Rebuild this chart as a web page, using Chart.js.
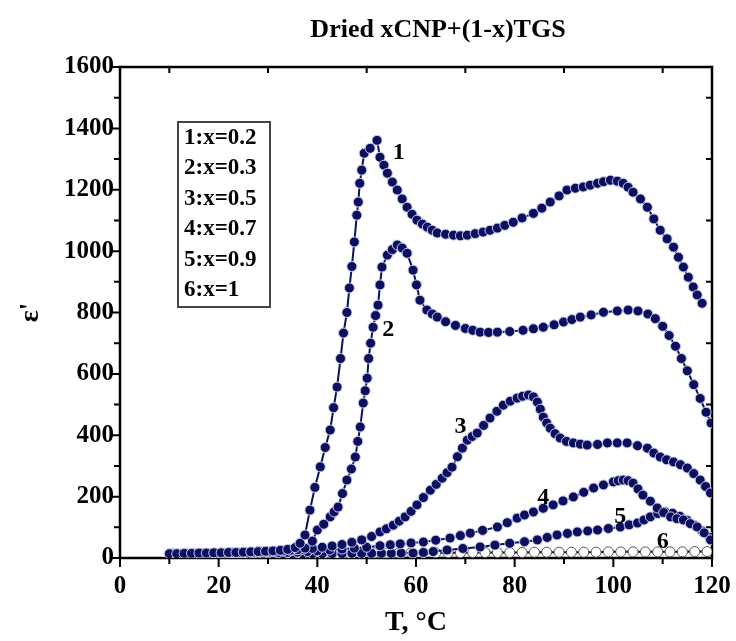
<!DOCTYPE html>
<html>
<head>
<meta charset="utf-8">
<script src="https://cdn.jsdelivr.net/npm/chart.js@4"></script>
<style>
  html, body { margin: 0; padding: 0; background: #fff; }
  #wrap { width: 736px; height: 641px; }
</style>
</head>
<body>
<div id="wrap"><canvas id="epsChart" width="736" height="641"></canvas></div>
<script>
  // --- Data ---
  const chartTitle = 'Dried xCNP+(1-x)TGS';
  const seriesLabels = ['1:x=0.2', '2:x=0.3', '3:x=0.5', '4:x=0.7', '5:x=0.9', '6:x=1'];

  const t1 = [10, 11.5, 13, 14.5, 16, 17.5, 19, 20.5, 22, 23.5, 25, 26.5, 28, 29.5, 31, 32.5, 34, 35.5, 36.5, 37.5,
    38.5, 39.5, 40.6, 41.6, 42.6, 43.3, 44, 44.7, 45.3, 46, 46.5, 47, 47.5, 48, 48.3, 48.6, 49, 49.5, 50.7, 52.1,
    52.7, 53.5, 54.2, 55.2, 56.2, 57.2, 58.2, 59.2, 60.2, 61.3, 62.3, 63.3, 64.3, 66, 67.6, 69, 70.4, 72, 73.6, 75,
    76.5, 78, 79.7, 81.5, 83.8, 85.5, 87.2, 89, 90.6, 92.3, 93.9, 95.3, 96.8, 98, 99.4, 100.8, 102, 103, 104, 105.5,
    106.9, 108.2, 109.5, 110.9, 112.2, 113.2, 114.2, 115.2, 116.2, 117, 118];
  const e1 = [14, 14, 15, 15, 16, 16, 17, 17, 18, 18, 19, 20, 21, 22, 23, 25, 28, 34, 48, 75,
    156, 230, 297, 360, 417, 490, 557, 650, 733, 800, 880, 950, 1030, 1117, 1160, 1221, 1264, 1319, 1335, 1361,
    1306, 1280, 1254, 1225, 1199, 1170, 1143, 1120, 1101, 1088, 1078, 1068, 1059, 1055, 1052, 1050, 1052, 1057, 1062, 1068,
    1075, 1084, 1094, 1108, 1123, 1140, 1160, 1180, 1199, 1205, 1209, 1215, 1221, 1226, 1231, 1228, 1221, 1208, 1192, 1170,
    1143, 1105, 1068, 1040, 1013, 980, 948, 915, 883, 857, 830];

  const t2 = [10.5, 12, 13.5, 15, 16.5, 18, 19.5, 21, 22.5, 24, 25.5, 27, 28.5, 30, 31.5, 33, 34.5, 36, 37.5, 39,
    40, 41.3, 42.6, 43.4, 44.2, 45.1, 46, 46.9, 47.7, 48.2, 48.7, 49.3, 49.7, 50.1, 50.4, 50.8, 51.3, 51.8, 52.3, 52.7,
    53.1, 54.2, 55.2, 56.2, 57.2, 58.2, 59.4, 60.1, 60.8, 62.2, 63.3, 64.3, 66, 68, 70, 71.5, 73, 74.7, 76.5, 79,
    81.7, 83.8, 85.8, 88, 89.9, 91.6, 93.3, 95.5, 98, 100.8, 103, 105, 107, 108.5, 110, 111.3, 112.6, 113.8, 115, 116.3,
    117.6, 118.8, 119.8];
  const e2 = [13, 13, 14, 14, 15, 15, 16, 16, 17, 17, 18, 19, 20, 21, 22, 23, 25, 27, 32, 55,
    91, 110, 134, 150, 166, 210, 254, 290, 329, 380, 427, 505, 545, 586, 650, 700, 752, 790, 824, 890,
    948, 987, 1005, 1020, 1010, 993, 938, 890, 840, 808, 795, 785, 770, 758, 748, 742, 736, 735, 736, 738,
    742, 747, 752, 760, 769, 777, 785, 792, 801, 805, 808, 805, 795, 780, 755, 725, 690, 650, 610, 565,
    520, 475, 440];

  const t3 = [11, 13, 15, 17, 19, 21, 23, 25, 27, 29, 31, 33, 35, 37, 39, 41, 43, 45, 47, 49, 51,
    52.7, 54, 55.4, 56.6, 57.8, 59, 60.2, 61.5, 62.9, 64.1, 65.3, 66.3, 67.3, 68.4, 69.4, 70.4, 71.4, 72.4, 73.7,
    75, 76.4, 77.7, 79.1, 80.5, 81.6, 82.8, 83.8, 84.6, 85.2, 85.8, 86.5, 87.2, 88.2, 89.2, 90.5, 91.9, 93.3, 94.7, 96.8,
    98.8, 100.8, 102.8, 104.9, 106.9, 108.2, 109.5, 110.8, 112.2, 113.6, 115, 116.3, 117.6, 118.7, 119.7];
  const e3 = [14, 14, 15, 15, 16, 16, 17, 18, 19, 20, 21, 23, 25, 28, 31, 35, 39, 44, 51, 59, 70,
    85, 95, 107, 120, 134, 152, 173, 197, 221, 240, 260, 278, 296, 330, 358, 384, 396, 407, 432,
    456, 478, 498, 511, 521, 527, 531, 525, 508, 485, 459, 440, 423, 405, 391, 380, 375, 371, 368, 370,
    375, 375, 375, 366, 358, 342, 329, 320, 313, 304, 293, 275, 254, 233, 212];

  const t4 = [12, 14, 16, 18, 20, 22, 24, 26, 28, 30, 32, 34, 36, 38, 40, 42.5, 45, 47.5, 50, 52.7,
    54.8, 56.8, 59, 61.5, 64, 66.9, 69, 71, 73.5, 76.5, 78.5, 80.5, 82, 83.8, 85.8, 87.8, 89.8, 91.9, 94, 96,
    98, 100, 101, 102, 103, 104, 105, 106, 107.5, 108.9, 110.2, 111.6, 112.9, 114.2, 115.6, 117, 118.4, 119.7];
  const e4 = [12, 12, 13, 13, 14, 14, 15, 15, 16, 16, 17, 18, 19, 21, 23, 26, 29, 32, 35, 40,
    43, 46, 49, 52, 58, 65, 73, 81, 90, 101, 115, 130, 140, 150, 162, 173, 186, 199, 214, 228,
    238, 248, 252, 254, 252, 244, 225, 205, 185, 163, 148, 134, 128, 124, 112, 101, 82, 59];

  const t5 = [13, 15, 17, 19, 21, 23, 25, 27, 29, 31, 33, 35, 37, 39, 41, 43, 45, 47, 49, 51, 53, 55, 57,
    59.4, 61.5, 63.5, 66.3, 69.5, 73, 76, 79, 82, 84.6, 86.6, 88.6, 90.7, 92.7, 94.8, 96.8, 99,
    101.4, 103.2, 104.9, 106.2, 107.5, 109, 110.5, 112, 113.5, 115, 116.5, 118, 119.5];
  const e5 = [10, 10, 11, 11, 11, 12, 12, 12, 12, 13, 13, 13, 13, 14, 14, 14, 14, 15, 15, 15, 15, 15, 16,
    16, 18, 21, 26, 31, 36, 42, 48, 53, 59, 67, 75, 80, 85, 88, 91, 96,
    101, 108, 114, 124, 134, 145, 150, 146, 136, 122, 106, 88, 68];

  const t6 = [34, 36.5, 39, 41.5, 44, 46.5, 49, 51.5, 54, 56.5, 59, 61.5, 64, 66.5, 69, 71.5, 74, 76.5, 79, 81.5,
    84, 86.5, 89, 91.5, 94, 96.5, 99, 101.5, 104, 106.5, 109, 111.5, 114, 116.5, 119];
  const e6 = [14, 14, 15, 15, 15, 15, 16, 16, 16, 16, 17, 17, 17, 17, 17, 18, 18, 18, 18, 18,
    19, 19, 19, 19, 19, 19, 20, 20, 20, 20, 20, 20, 20, 21, 21];

  // curve number labels placed next to each curve (T, eps')
  const noteText = ['1', '2', '3', '4', '5', '6'];
  const noteT = [56.5, 54.4, 69, 85.8, 101.4, 110];
  const noteE = [1319, 743, 427, 195, 134, 52];

  const xTicks = [0, 20, 40, 60, 80, 100, 120];
  const yTicks = [0, 200, 400, 600, 800, 1000, 1200, 1400, 1600];

  const NAVY = '#0c0f5e';
  const FONT = 'Liberation Serif';

  function zip(ts, es) {
    const n = Math.min(ts.length, es.length);
    const out = [];
    for (let i = 0; i < n; i++) out.push({ x: ts[i], y: es[i] });
    return out;
  }

  const curves = [[t1, e1], [t2, e2], [t3, e3], [t4, e4], [t5, e5], [t6, e6]];

  const datasets = curves.map((c, i) => {
    const open = i === 5;
    return {
      label: seriesLabels[i],
      data: zip(c[0], c[1]),
      showLine: true,
      borderColor: open ? '#111' : NAVY,
      borderWidth: 2,
      pointRadius: 5,
      pointBackgroundColor: open ? '#ffffff' : NAVY,
      pointBorderColor: open ? '#555' : '#c9cdf0',
      pointBorderWidth: 1,
      tension: 0
    };
  });

  // --- frame with ticks, title, curve numbers and legend box ---
  const framePlugin = {
    id: 'frame',
    beforeDatasetsDraw(chart) {
      const { ctx, chartArea: a, scales: { x, y } } = chart;
      ctx.save();
      ctx.strokeStyle = '#000';
      ctx.lineWidth = 2;
      ctx.beginPath();
      for (let v = 0; v <= 120; v += 10) {
        const px = x.getPixelForValue(v);
        const major = v % 20 === 0;
        ctx.moveTo(px, a.bottom);
        ctx.lineTo(px, a.bottom + (major ? 9 : 6));
        if (!major) { ctx.moveTo(px, a.top); ctx.lineTo(px, a.top + 6); }
      }
      for (let v = 0; v <= 1600; v += 100) {
        const py = y.getPixelForValue(v);
        const major = v % 200 === 0;
        ctx.moveTo(a.left, py);
        ctx.lineTo(a.left - (major ? 9 : 6), py);
        if (!major) { ctx.moveTo(a.right, py); ctx.lineTo(a.right - 6, py); }
      }
      ctx.stroke();
      ctx.lineWidth = 2.5;
      ctx.strokeRect(a.left, a.top, a.right - a.left, a.bottom - a.top);

      ctx.fillStyle = '#000';
      ctx.font = 'bold 26px "' + FONT + '"';
      ctx.textAlign = 'center';
      ctx.textBaseline = 'middle';
      ctx.fillText(chartTitle, (a.left + a.right) / 2 + 22, 30);
      ctx.restore();
    },
    afterDatasetsDraw(chart) {
      const { ctx, chartArea: a, scales: { x, y } } = chart;
      ctx.save();
      ctx.fillStyle = '#000';
      ctx.font = 'bold 24px "' + FONT + '"';
      ctx.textAlign = 'center';
      ctx.textBaseline = 'middle';
      noteText.forEach((t, i) => {
        ctx.fillText(t, x.getPixelForValue(noteT[i]), y.getPixelForValue(noteE[i]));
      });

      // legend box
      const bx = a.left + 58, by = a.top + 55, bw = 92, bh = 185;
      ctx.fillStyle = '#fff';
      ctx.fillRect(bx, by, bw, bh);
      ctx.strokeStyle = '#444';
      ctx.lineWidth = 2;
      ctx.strokeRect(bx, by, bw, bh);
      ctx.fillStyle = '#000';
      ctx.font = 'bold 23px "' + FONT + '"';
      ctx.textAlign = 'left';
      chart.data.datasets.forEach((ds, i) => {
        ctx.fillText(ds.label, bx + 6, by + 16 + i * 30.5);
      });
      ctx.restore();
    }
  };

  const tickFont = { family: FONT, size: 25, weight: 'bold' };

  new Chart(document.getElementById('epsChart'), {
    type: 'scatter',
    data: { datasets },
    options: {
      responsive: false,
      animation: false,
      layout: { padding: { top: 67, right: 24, bottom: 0, left: 0 } },
      plugins: {
        legend: { display: false },
        tooltip: { enabled: false },
        title: { display: false }
      },
      scales: {
        x: {
          type: 'linear',
          min: 0, max: 120,
          afterFit: (s) => { s.height = 83; s.paddingLeft = 0; s.paddingRight = 0; },
          afterBuildTicks: (s) => { s.ticks = xTicks.map(v => ({ value: v })); },
          grid: { display: false, drawTicks: false },
          border: { display: false },
          ticks: { color: '#000', padding: 14, maxRotation: 0, font: tickFont, callback: (v) => String(v) },
          title: { display: true, text: 'T, \u00B0C', color: '#000', padding: { top: 0, bottom: 1 },
            font: { family: FONT, size: 28, weight: 'bold' } }
        },
        y: {
          type: 'linear',
          min: 0, max: 1600,
          afterFit: (s) => { s.width = 120; s.paddingTop = 0; s.paddingBottom = 0; },
          afterBuildTicks: (s) => { s.ticks = yTicks.map(v => ({ value: v })); },
          grid: { display: false, drawTicks: false },
          border: { display: false },
          ticks: { color: '#000', padding: 6, font: tickFont, callback: (v) => String(v) },
          title: { display: true, text: "\u03B5'", color: '#000', padding: { top: 14, bottom: 0 },
            font: { family: FONT, size: 28, weight: 'bold' } }
        }
      }
    },
    plugins: [framePlugin]
  });
</script>
</body>
</html>
